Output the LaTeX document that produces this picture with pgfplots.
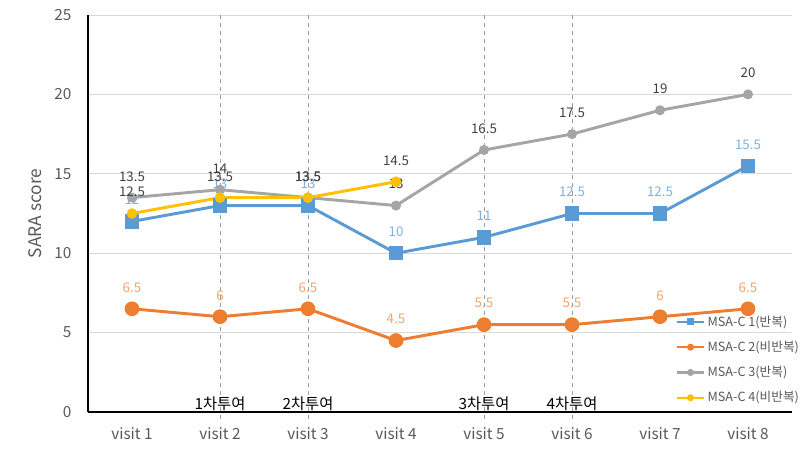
\documentclass[border=0pt]{standalone}
\usepackage{pgfplots}
\pgfplotsset{compat=1.18}
\usepackage{fontspec}
\setmainfont{Noto Sans CJK KR}
\definecolor{cblue}{HTML}{5B9BD5}
\definecolor{corange}{HTML}{ED7D31}
\definecolor{cgray}{HTML}{A5A5A5}
\definecolor{cyellow}{HTML}{FFC000}
\definecolor{lblue}{HTML}{7FB2E0}
\definecolor{lorange}{HTML}{F2A46E}
\definecolor{dtext}{HTML}{404040}
\definecolor{ttext}{HTML}{595959}
\begin{document}
\begin{tikzpicture}[x=1pt,y=1pt]
\useasboundingbox (0,0) rectangle (609,340.5);
\begin{axis}[
  at={(66pt,31.5pt)}, anchor=south west,
  scale only axis, width=528pt, height=297.75pt,
  xmin=-0.5, xmax=7.5, ymin=0, ymax=25,
  xtick={0,...,7},
  xticklabels={visit 1,visit 2,visit 3,visit 4,visit 5,visit 6,visit 7,visit 8},
  ytick={0,5,...,25},
  axis x line*=bottom, axis y line*=left,
  axis line style={black, line width=0.9pt, -},
  xtick style={draw=none}, ytick style={draw=none},
  ymajorgrids, grid style={draw=black!15, line width=0.6pt},
  /pgf/number format/assume math mode=true,
  tick label style={font=\fontsize{11.5}{13}\selectfont, text=ttext},
  yticklabel style={xshift=-9pt},
  xticklabel style={yshift=-8pt},
  ylabel={SARA score},
  ylabel style={font=\fontsize{13}{15}\selectfont, text=ttext, at={(axis description cs:-0.075,0.5)}, anchor=center},
  clip=false,
  nodes near coords,
  every node near coord/.append style={anchor=center, yshift=16pt, font=\fontsize{10}{12}\selectfont},
  legend cell align=left,
  legend style={draw=none, fill=none, at={(axis description cs:0.835,0.25)}, anchor=north west,
    font=\fontsize{9.5}{11}\selectfont, text=ttext, row sep=5.6pt, inner sep=0pt},
  legend image code/.code={\draw[mark repeat=2,mark phase=2,#1,mark size=1.8pt,line width=1.6pt] plot coordinates {(0pt,0pt)(10pt,0pt)(20pt,0pt)};},
]
\draw[dashed, draw=black!40, line width=0.5pt] (axis cs:1,25) -- ([yshift=-6pt]axis cs:1,0);
\draw[dashed, draw=black!40, line width=0.5pt] (axis cs:2,25) -- ([yshift=-6pt]axis cs:2,0);
\draw[dashed, draw=black!40, line width=0.5pt] (axis cs:4,25) -- ([yshift=-6pt]axis cs:4,0);
\draw[dashed, draw=black!40, line width=0.5pt] (axis cs:5,25) -- ([yshift=-6pt]axis cs:5,0);
\addplot[cblue, line width=2.2pt, mark=square*, mark size=4.3pt, mark options={solid},
  every node near coord/.append style={text=lblue}]
  coordinates {(0,12) (1,13) (2,13) (3,10) (4,11) (5,12.5) (6,12.5) (7,15.5)};
\addlegendentry{MSA-C 1(반복)}
\addplot[corange, line width=2.2pt, mark=*, mark size=4.4pt,
  every node near coord/.append style={text=lorange}]
  coordinates {(0,6.5) (1,6) (2,6.5) (3,4.5) (4,5.5) (5,5.5) (6,6) (7,6.5)};
\addlegendentry{MSA-C 2(비반복)}
\addplot[cgray, line width=2.2pt, mark=*, mark size=2.6pt,
  every node near coord/.append style={text=dtext}]
  coordinates {(0,13.5) (1,14) (2,13.5) (3,13) (4,16.5) (5,17.5) (6,19) (7,20)};
\addlegendentry{MSA-C 3(반복)}
\addplot[cyellow, line width=2.2pt, mark=*, mark size=2.8pt,
  every node near coord/.append style={text=dtext}]
  coordinates {(0,12.5) (1,13.5) (2,13.5) (3,14.5)};
\addlegendentry{MSA-C 4(비반복)}
\node[anchor=south, font=\fontsize{11.5}{13}\selectfont, inner sep=0.5pt] at (axis cs:1,0) {1차투여};
\node[anchor=south, font=\fontsize{11.5}{13}\selectfont, inner sep=0.5pt] at (axis cs:2,0) {2차투여};
\node[anchor=south, font=\fontsize{11.5}{13}\selectfont, inner sep=0.5pt] at (axis cs:4,0) {3차투여};
\node[anchor=south, font=\fontsize{11.5}{13}\selectfont, inner sep=0.5pt] at (axis cs:5,0) {4차투여};
\end{axis}
\end{tikzpicture}
\end{document}
